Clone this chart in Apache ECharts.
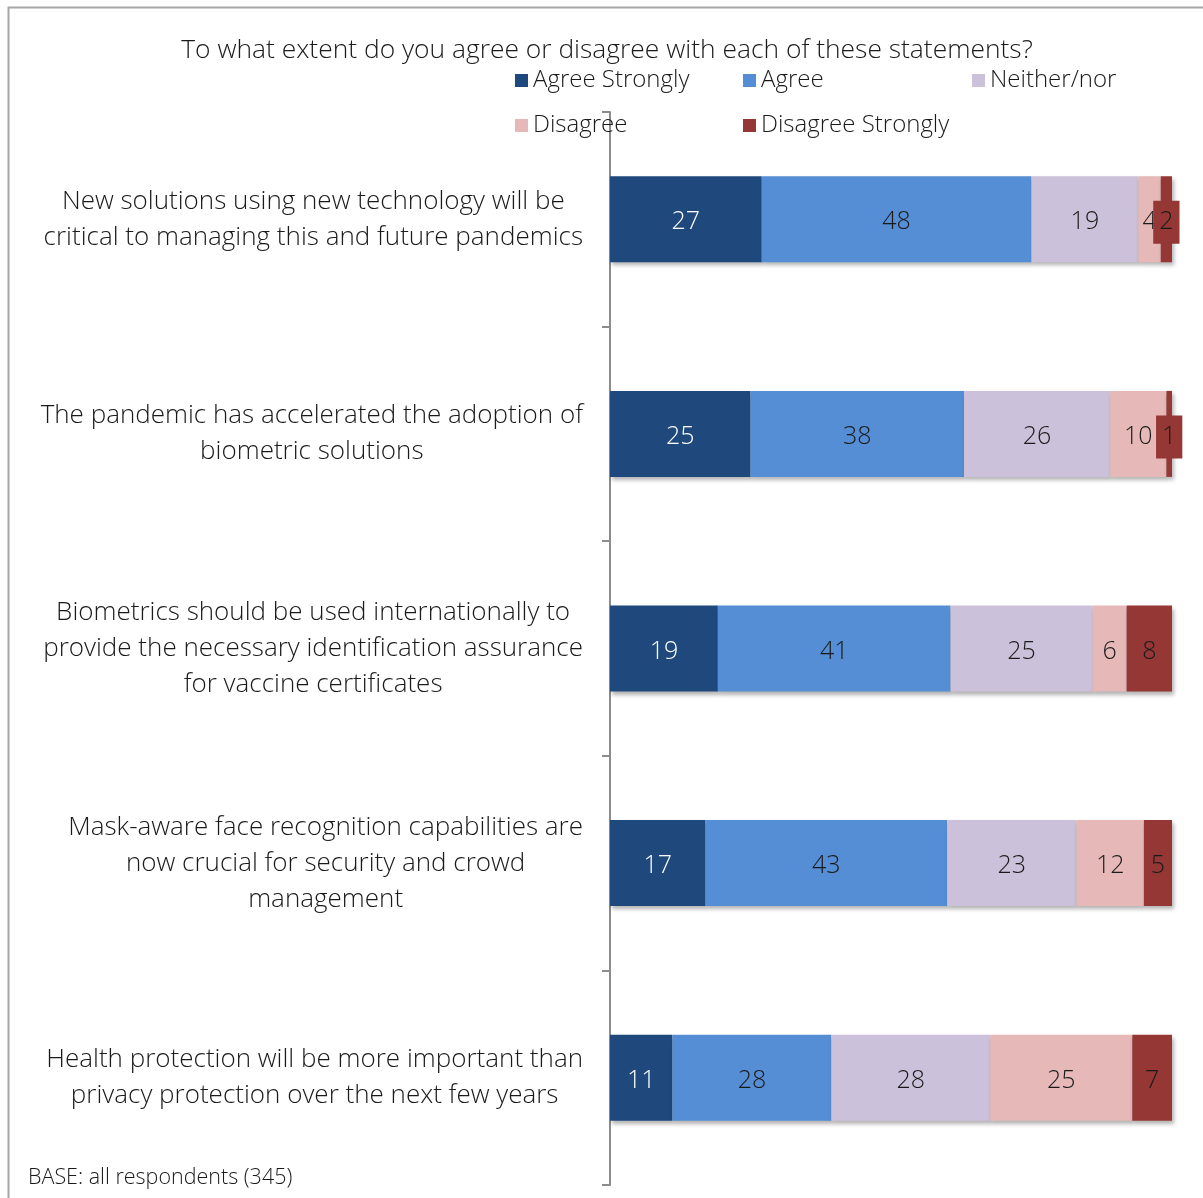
<!DOCTYPE html>
<html>
<head>
<meta charset="utf-8">
<script src="https://cdn.jsdelivr.net/npm/echarts@6/dist/echarts.min.js"></script>
<style>
  html, body { margin: 0; padding: 0; background: #fff; }
  #chart { width: 1203px; height: 1198px; }
</style>
</head>
<body>
<div id="chart"></div>
<script>
const statements = [
  'New solutions using new technology will be\ncritical to managing this and future pandemics',
  'The pandemic has accelerated the adoption of\nbiometric solutions',
  'Biometrics should be used internationally to\nprovide the necessary identification assurance\nfor vaccine certificates',
  'Mask-aware face recognition capabilities are\nnow crucial for security and crowd\nmanagement',
  'Health protection will be more important than\nprivacy protection over the next few years'
]
const agreeStrongly = [27, 25, 19, 17, 11]
const agree = [48, 38, 41, 43, 28]
const neither = [19, 26, 25, 23, 28]
const disagree = [4, 10, 6, 12, 25]
const disagreeStrongly = [2, 1, 8, 5, 7]

const seriesNames = ['Agree Strongly', 'Agree', 'Neither/nor', 'Disagree', 'Disagree Strongly']
const seriesValues = [agreeStrongly, agree, neither, disagree, disagreeStrongly]
const colors = ['#1F497D', '#558ED5', '#CCC1DA', '#E6B9B8', '#953735']

const font = '"Open Sans", "Noto Sans", sans-serif'
const textColor = '#1a1a1a'

// 100% stacked: each row scaled to its own total
const totals = statements.map((s, i) => seriesValues.reduce((a, arr) => a + arr[i], 0))

const chart = echarts.init(document.getElementById('chart'))

const series = seriesNames.map((name, k) => ({
  name,
  type: 'bar',
  stack: 'all',
  barWidth: 86,
  data: seriesValues[k].map((v, i) => ({ value: v / totals[i] * 100, raw: v })),
  itemStyle: {
    color: colors[k],
    shadowColor: 'rgba(0,0,0,0.3)',
    shadowBlur: 4,
    shadowOffsetX: 2,
    shadowOffsetY: 3
  },
  label: {
    show: true,
    position: 'inside',
    offset: [0, 3],
    formatter: p => String(p.data.raw),
    fontFamily: font,
    fontWeight: 300,
    fontSize: 25,
    color: k === 0 ? '#fff' : textColor,
    backgroundColor: k === 4 ? colors[4] : 'transparent',
    padding: k === 4 ? [10, 6, 8, 6] : 0
  },
  emphasis: { disabled: true },
  animation: false
}))

const legendBase = {
  orient: 'vertical',
  top: 68,
  padding: 0,
  itemWidth: 13,
  itemHeight: 13,
  itemGap: 20,
  icon: 'rect',
  textStyle: { fontFamily: font, fontWeight: 300, fontSize: 24, color: textColor, lineHeight: 25 }
}

chart.setOption({
  backgroundColor: '#fff',
  title: {
    text: 'To what extent do you agree or disagree with each of these statements?',
    left: 602,
    textAlign: 'center',
    top: 32,
    textStyle: { fontFamily: font, fontSize: 26.4, fontWeight: 300, color: textColor }
  },
  legend: [
    Object.assign({ left: 515, data: ['Agree Strongly', 'Disagree'] }, legendBase),
    Object.assign({ left: 743, data: ['Agree', 'Disagree Strongly'] }, legendBase),
    Object.assign({ left: 972, data: ['Neither/nor'] }, legendBase)
  ],
  grid: { left: 610, right: 31, top: 112, bottom: 13 },
  xAxis: {
    type: 'value',
    min: 0,
    max: 100,
    show: false
  },
  yAxis: {
    type: 'category',
    inverse: true,
    data: statements,
    axisLine: { lineStyle: { color: '#8c8c8c', width: 2 } },
    axisTick: { show: true, length: 8, lineStyle: { color: '#8c8c8c', width: 2 } },
    axisLabel: {
      interval: 0,
      margin: 27,
      align: 'right',
      fontFamily: font,
      fontSize: 26,
      color: textColor,
      lineHeight: 36,
      formatter: v => v.split('\n').map(l => '{c|' + l + '}').join('\n'),
      rich: {
        c: { align: 'center', fontFamily: font, fontWeight: 300, fontSize: 26, color: textColor, lineHeight: 36 }
      }
    }
  },
  graphic: [
    {
      type: 'rect',
      shape: { x: 8.5, y: 7.5, width: 1210, height: 1210 },
      style: { fill: 'none', stroke: '#a6a6a6', lineWidth: 2 },
      silent: true
    },
    {
      type: 'text',
      left: 28,
      top: 1167,
      style: { text: 'BASE: all respondents (345)', font: '300 21.5px ' + font, fill: textColor }
    }
  ],
  series
})
</script>
</body>
</html>
